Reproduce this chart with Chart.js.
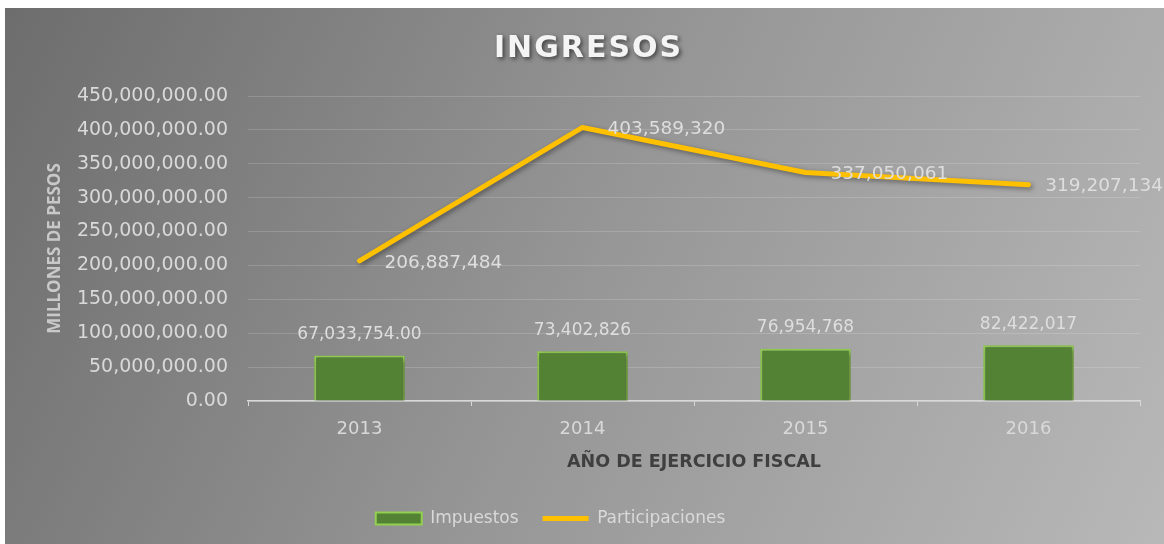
<!DOCTYPE html>
<html><head><meta charset="utf-8">
<script src="https://cdn.jsdelivr.net/npm/chart.js@4.4.0/dist/chart.umd.min.js"></script>
<style>
html,body{margin:0;padding:0;background:#fff;width:1164px;height:544px;overflow:hidden}
#wrap{position:absolute;left:5px;top:8px;width:1159px;height:536px}
</style>
</head><body><div id="wrap"><canvas id="c"></canvas></div>
<script>
const categories = ['2013', '2014', '2015', '2016'];
const impuestos = [67033754, 73402826, 76954768, 82422017];
const impuestosDecimals = [2, 0, 0, 0];
const participaciones = [206887484, 403589320, 337050061, 319207134];
const yMin = 0, yMax = 450000000, yStep = 50000000;

const fmt = (v, d) => v.toLocaleString('en-US', {minimumFractionDigits: d, maximumFractionDigits: d});

function wrapDraw(box, fn) {
  if (!box || box._wrapped) return;
  const orig = box.draw;
  box.draw = function (...a) {
    const c = this.ctx;
    c.save();
    fn(c);
    orig.apply(this, a);
    c.restore();
  };
  box._wrapped = true;
}

const bgPlugin = {
  id: 'bg',
  beforeDraw(chart) {
    const {ctx, width, height} = chart;
    const g = ctx.createLinearGradient(0, 0, width, height);
    g.addColorStop(0, '#6d6d6d');
    g.addColorStop(0.5, '#969696');
    g.addColorStop(1, '#b8b8b8');
    ctx.save();
    ctx.fillStyle = g;
    ctx.fillRect(0, 0, width, height);
    ctx.restore();
    wrapDraw(chart.titleBlock, c => {
      c.translate(16, 1);
      c.letterSpacing = '2px';
      c.shadowColor = 'rgba(0,0,0,0.55)';
      c.shadowBlur = 4;
      c.shadowOffsetX = 2;
      c.shadowOffsetY = 2;
    });
    wrapDraw(chart.legend, c => { c.translate(-22, 1); });
  }
};

const shadowPlugin = {
  id: 'shadow',
  beforeDatasetDraw(chart) {
    const ctx = chart.ctx;
    ctx.save();
    ctx.shadowColor = 'rgba(0,0,0,0.4)';
    ctx.shadowBlur = 5;
    ctx.shadowOffsetX = 2;
    ctx.shadowOffsetY = 2;
  },
  afterDatasetDraw(chart) { chart.ctx.restore(); }
};

const labelPlugin = {
  id: 'labels',
  afterDatasetsDraw(chart) {
    const ctx = chart.ctx;
    ctx.save();
    ctx.fillStyle = '#dedede';
    ctx.textBaseline = 'middle';
    const m0 = chart.getDatasetMeta(0);
    ctx.font = '17px "DejaVu Sans"';
    ctx.textAlign = 'center';
    m0.data.forEach((el, i) => {
      ctx.fillText(fmt(impuestos[i], impuestosDecimals[i]), el.x, el.y - 21);
    });
    const m1 = chart.getDatasetMeta(1);
    ctx.font = '18.5px "DejaVu Sans"';
    ctx.textAlign = 'left';
    m1.data.forEach((el, i) => {
      const t = fmt(participaciones[i], 0);
      const w = ctx.measureText(t).width;
      const x = Math.min(el.x + 25, chart.width - w - 1);
      ctx.fillText(t, x, el.y + 2);
    });
    ctx.restore();
  }
};

new Chart(document.getElementById('c'), {
  type: 'bar',
  data: {
    labels: categories,
    datasets: [
      {
        label: 'Impuestos',
        data: impuestos,
        backgroundColor: '#548235',
        borderColor: '#92d050',
        borderWidth: 2,
        categoryPercentage: 1,
        barPercentage: 0.406,
        pointStyle: 'rect'
      },
      {
        type: 'line',
        label: 'Participaciones',
        data: participaciones,
        borderColor: '#ffc000',
        backgroundColor: '#ffc000',
        borderWidth: 5,
        borderCapStyle: 'round',
        borderJoinStyle: 'round',
        pointRadius: 0,
        pointHoverRadius: 0,
        tension: 0,
        fill: false,
        pointStyle: 'line'
      }
    ]
  },
  options: {
    responsive: true,
    maintainAspectRatio: false,
    animation: false,
    events: [],
    layout: {padding: {left: 0, right: 24, top: 0, bottom: 8}},
    plugins: {
      tooltip: {enabled: false},
      title: {
        display: true,
        text: 'INGRESOS',
        color: '#f4f4f4',
        font: {family: '"DejaVu Sans"', size: 30, weight: 'bold', lineHeight: 1.2},
        padding: {top: 22, bottom: 30}
      },
      legend: {
        position: 'bottom',
        labels: {
          color: '#d9d9d9',
          font: {family: '"DejaVu Sans"', size: 17},
          usePointStyle: true,
          pointStyleWidth: 46,
          boxHeight: 12,
          padding: 24,
          generateLabels(chart) {
            return chart.data.datasets.map((ds, i) => ({
              text: ds.label,
              fillStyle: ds.backgroundColor,
              strokeStyle: ds.borderColor,
              lineWidth: i === 0 ? 2 : 5,
              pointStyle: ds.pointStyle,
              fontColor: '#d9d9d9',
              datasetIndex: i,
              hidden: false,
              lineCap: 'butt'
            }));
          }
        }
      }
    },
    scales: {
      x: {
        offset: true,
        grid: {display: true, drawOnChartArea: false, drawTicks: true, tickLength: 5, offset: true, color: '#d9d9d9'},
        border: {display: true, color: '#d9d9d9', width: 1.5},
        ticks: {color: '#d9d9d9', font: {family: '"DejaVu Sans"', size: 18}, padding: 13},
        title: {
          display: true,
          text: 'AÑO DE EJERCICIO FISCAL',
          color: '#3f3f3f',
          font: {family: '"DejaVu Sans"', size: 17.5, weight: 'bold', lineHeight: 1.2},
          padding: {top: 0, bottom: 12}
        },
        afterFit(scale) { scale.height = 84; }
      },
      y: {
        min: yMin,
        max: yMax,
        grid: {color: 'rgba(255,255,255,0.16)', drawTicks: false, lineWidth: 1},
        border: {display: false},
        ticks: {
          stepSize: yStep,
          color: '#d9d9d9',
          font: {family: '"DejaVu Sans"', size: 19},
          padding: 20,
          callback: v => fmt(v, 2)
        },
        title: {
          display: true,
          text: 'MILLONES DE PESOS',
          color: 'rgba(215,215,215,0.85)',
          font: {family: '"Open Sans"', size: 17, weight: 'bold', lineHeight: 1.2},
          padding: {top: 40, bottom: 0}
        },
        afterFit(scale) { scale.width = 243; }
      }
    }
  },
  plugins: [bgPlugin, shadowPlugin, labelPlugin]
});
</script>
</body></html>
